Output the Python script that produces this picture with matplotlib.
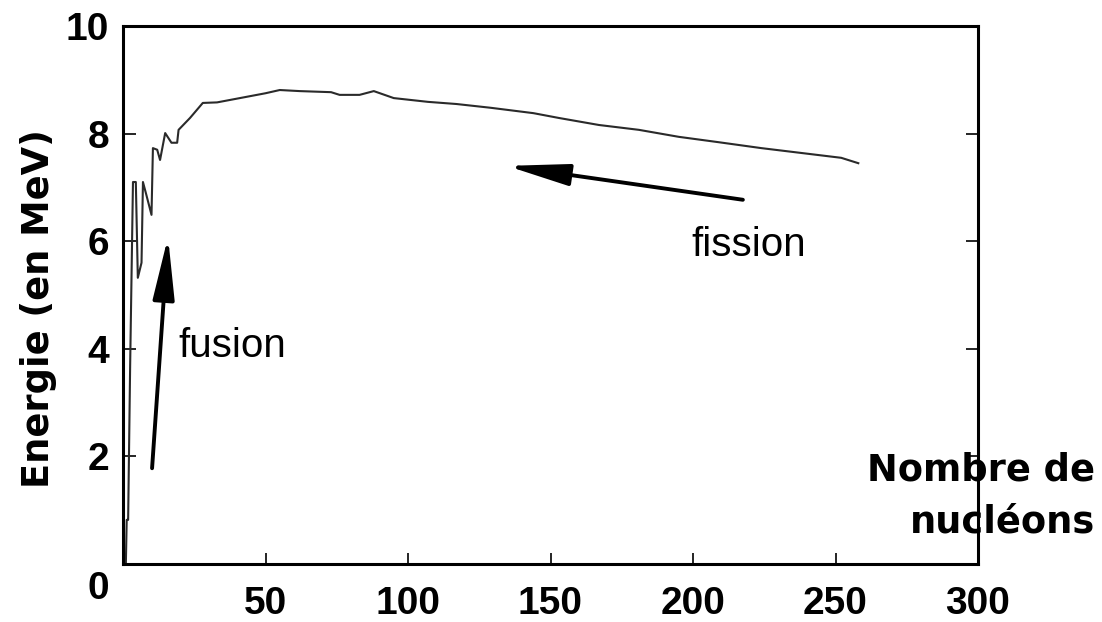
import numpy as np
import matplotlib
matplotlib.use("Agg")
import matplotlib.pyplot as plt
import matplotlib.transforms as mtransforms

# binding energy per nucleon
nucleons = [1, 1.3, 1.8, 2.5, 3.5, 4.5, 5.2, 6.5, 7.0, 8.0, 10.0, 10.5, 12.0,
            13.0, 14.8, 17.0, 19.0, 19.5, 23.5, 28, 33, 41, 50, 55, 62, 73,
            76, 83, 88, 95, 107, 117, 129, 144, 153, 167, 181, 195, 209,
            224, 238, 252, 258]
energie = [0.0, 0.82, 0.82, 3.66, 7.10, 7.10, 5.32, 5.6, 7.10, 6.9, 6.49,
           7.73, 7.70, 7.51, 8.01, 7.83, 7.83, 8.07, 8.29, 8.57, 8.58, 8.66,
           8.75, 8.81, 8.79, 8.77, 8.72, 8.72, 8.79, 8.66, 8.59, 8.55, 8.48,
           8.38, 8.29, 8.16, 8.07, 7.94, 7.84, 7.73, 7.64, 7.55, 7.45]

xticks = [0, 50, 100, 150, 200, 250, 300]
xticklabels = ["", "50", "100", "150", "200", "250", "300"]
yticks = [0, 2, 4, 6, 8, 10]

fig = plt.figure(figsize=(11.02, 6.22), dpi=100)
ax = fig.add_axes([123 / 1102, 1 - 564 / 622, 855 / 1102, 538 / 622])

ax.plot(nucleons, energie, color="#2a2a2a", lw=1.5)

ax.set_xlim(0, 300)
ax.set_ylim(0, 10)
ax.set_xticks(xticks)
ax.set_xticklabels(xticklabels)
ax.set_yticks(yticks)
ax.set_yticklabels([str(v) for v in yticks])

for lab in ax.get_xticklabels() + ax.get_yticklabels():
    lab.set_fontfamily(["Liberation Sans", "DejaVu Sans"])
    lab.set_fontweight("bold")
    lab.set_fontsize(28)

ax.tick_params(axis="x", direction="in", length=8, width=1.2, pad=16)
ax.tick_params(axis="y", direction="in", length=9, width=1.2, pad=10, right=True)

# the "0" of the y axis sits lower, under the corner
zero = ax.get_yticklabels()[0]
zero.set_transform(zero.get_transform() + mtransforms.ScaledTranslation(0, -21 / 100, fig.dpi_scale_trans))

for s in ax.spines.values():
    s.set_linewidth(2.2)

ax.set_ylabel("Energie (en MeV)", fontsize=26.5, fontweight="bold",
              family=["DejaVu Sans"])
ax.yaxis.set_label_coords(-0.077, 0.475)

fig.text(1095 / 1102, 1 - 496 / 622, "Nombre de\nnucléons", ha="right", va="center",
         multialignment="right", fontsize=26.5, fontweight="bold",
         family=["DejaVu Sans"], linespacing=1.55)

ax.text(19.3, 3.85, "fusion", fontsize=29, family=["Liberation Sans", "DejaVu Sans"],
        va="baseline", ha="left")
ax.text(199.6, 5.72, "fission", fontsize=29, family=["Liberation Sans", "DejaVu Sans"],
        va="baseline", ha="left")

arrow = dict(arrowstyle="-|>,head_length=1.9,head_width=0.33", color="black",
             lw=2.8, mutation_scale=20, shrinkA=0, shrinkB=0)
ax.annotate("", xy=(15.8, 6.08), xytext=(10.2, 1.78), arrowprops=arrow)
ax.annotate("", xy=(134.7, 7.40), xytext=(217.5, 6.77), arrowprops=arrow)

fig.savefig("out.png", dpi=100, facecolor="white")
